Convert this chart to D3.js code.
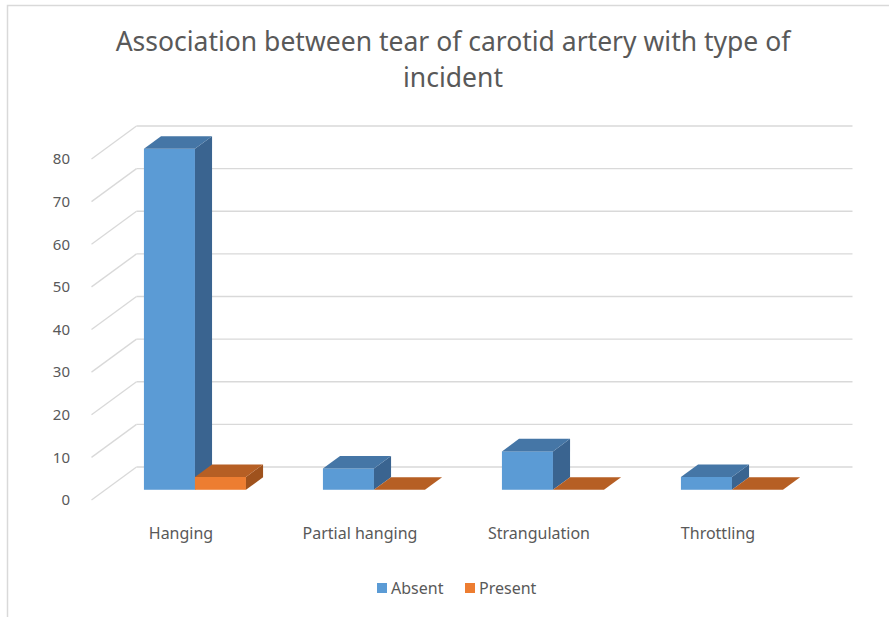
<!DOCTYPE html>
<html>
<head>
<meta charset="utf-8">
<script src="https://cdn.jsdelivr.net/npm/d3@7"></script>
<style>
  body { margin: 0; background: #fff; }
  text { font-family: "Noto Sans", "Liberation Sans", sans-serif; fill: #595959; }
</style>
</head>
<body>
<div id="chart"></div>
<script>
const width = 889;
const height = 617;

// data
const categories = ["Hanging", "Partial hanging", "Strangulation", "Throttling"];
const seriesNames = ["Absent", "Present"];
const absent = [80, 5, 9, 3];
const present = [3, 0, 0, 0];
const yTicks = [0, 10, 20, 30, 40, 50, 60, 70, 80];
const titleLines = ["Association between tear of carotid artery with type of", "incident"];

const colors = {
    Absent: { front: "#5b9bd5", top: "#4576a6", side: "#3a6490" },
    Present: { front: "#ed7d31", top: "#b65f24", side: "#9f521d" }
};

// 3d depth vector of the plot box
const depthX = 45, depthY = -33;
const f0 = 0.31, f1 = 0.69;   // bar front / back as fraction of depth

var svg = d3.select("#chart")
    .append("svg")
    .attr("width", width)
    .attr("height", height)

// chart frame (only left and top visible)
svg.append("rect")
    .attr("x", 7.5).attr("y", 5.5)
    .attr("width", 900).attr("height", 700)
    .attr("fill", "none")
    .attr("stroke", "#d9d9d9")
    .attr("stroke-width", 1.5)

const x = d3.scaleBand()
    .domain(categories)
    .range([91.5, 807.5])
    .paddingInner(0.43)
    .paddingOuter(0.215)

const x1 = d3.scaleBand()
    .domain(seriesNames)
    .range([0, x.bandwidth()])

const y = d3.scaleLinear()
    .domain([0, 80])
    .range([500, 159])

const x0 = x.range()[0], xEnd = x.range()[1];

// gridlines: side wall diagonals + back wall
const grid = svg.append("g")
    .attr("stroke", "#d9d9d9")
    .attr("stroke-width", 1.3)
    .attr("fill", "none")

grid.selectAll(".diag")
    .data(yTicks)
    .join("line")
    .attr("x1", x0).attr("y1", d => y(d))
    .attr("x2", x0 + depthX).attr("y2", d => y(d) + depthY)

grid.selectAll(".back")
    .data(yTicks)
    .join("line")
    .attr("x1", x0 + depthX).attr("y1", d => y(d) + depthY)
    .attr("x2", xEnd + depthX).attr("y2", d => y(d) + depthY)

// y tick labels
svg.append("g")
    .selectAll("text")
    .data(yTicks)
    .join("text")
    .attr("x", 70)
    .attr("y", d => y(d))
    .attr("dy", "0.35em")
    .attr("text-anchor", "end")
    .style("font-size", "15px")
    .text(d => d)

// bars
let rows = [];
categories.forEach((c, i) => {
    rows.push({ cat: c, s: "Absent", v: absent[i] });
    rows.push({ cat: c, s: "Present", v: present[i] });
});

const ax = depthX * f0, ay = depthY * f0;
const bx = depthX * f1, by = depthY * f1;

const bars = svg.append("g")
    .selectAll("g")
    .data(rows)
    .join("g")

bars.each(function(d) {
    const g = d3.select(this);
    const left = x(d.cat) + x1(d.s);
    const right = left + x1.bandwidth();
    const top = y(d.v), base = y(0);
    const col = colors[d.s];

    g.append("rect")
        .attr("x", left + ax)
        .attr("y", top + ay)
        .attr("width", x1.bandwidth())
        .attr("height", base - top)
        .attr("fill", col.front)

    g.append("polygon")
        .attr("points", [
            [right + ax, top + ay], [right + bx, top + by],
            [right + bx, base + by], [right + ax, base + ay]
        ].join(" "))
        .attr("fill", col.side)

    g.append("polygon")
        .attr("points", [
            [left + ax, top + ay], [right + ax, top + ay],
            [right + bx, top + by], [left + bx, top + by]
        ].join(" "))
        .attr("fill", col.top)
});

// category labels
svg.append("g")
    .selectAll("text")
    .data(categories)
    .join("text")
    .attr("x", d => x(d) + x.bandwidth() / 2)
    .attr("y", 533)
    .attr("dy", "0.35em")
    .attr("text-anchor", "middle")
    .style("font-size", "16px")
    .text(d => d)

// title
svg.append("g")
    .selectAll("text")
    .data(titleLines)
    .join("text")
    .attr("x", 453)
    .attr("y", (d, i) => 42 + i * 36)
    .attr("dy", "0.35em")
    .attr("text-anchor", "middle")
    .style("font-size", "26.5px")
    .text(d => d)

// legend
const legend = svg.append("g")
    .selectAll("g")
    .data(seriesNames)
    .join("g")
    .attr("transform", (d, i) => `translate(${i === 0 ? 377 : 465}, 583)`)

legend.append("rect")
    .attr("width", 10).attr("height", 10)
    .attr("fill", d => colors[d].front)

legend.append("text")
    .attr("x", 14).attr("y", 5)
    .attr("dy", "0.35em")
    .style("font-size", "16px")
    .text(d => d)
</script>
</body>
</html>
